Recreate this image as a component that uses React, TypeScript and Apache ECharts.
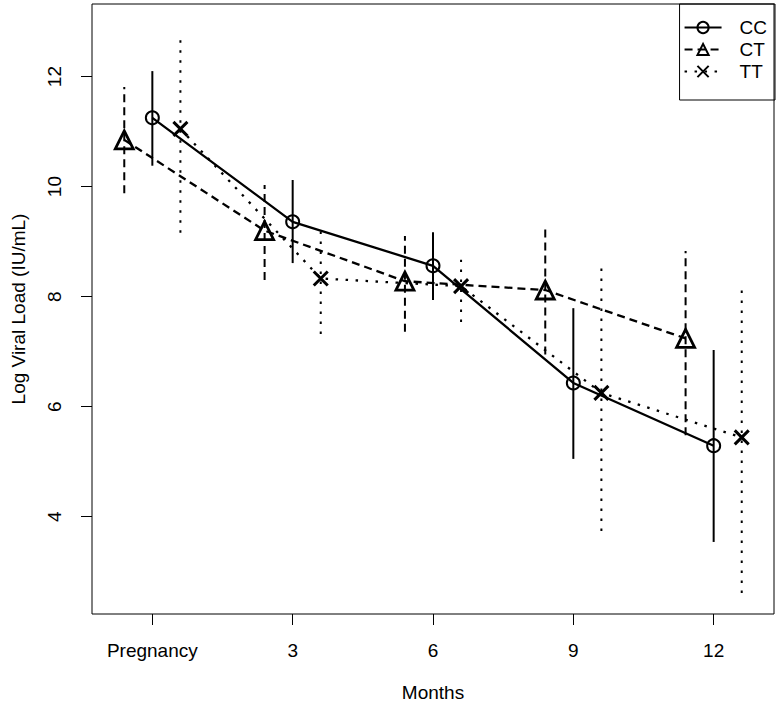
import React, { useEffect, useRef } from "react";
import * as echarts from "echarts";

const timeLabels = ["Pregnancy", "3", "6", "9", "12"];
const groupNames = ["CC", "CT", "TT"];
const ccMean = [11.25, 9.36, 8.56, 6.43, 5.29];
const ccLow = [10.38, 8.61, 7.94, 5.05, 3.54];
const ccHigh = [12.1, 10.12, 9.17, 7.79, 7.03];
const ctMean = [10.85, 9.2, 8.28, 8.12, 7.24];
const ctLow = [9.88, 8.3, 7.36, 6.95, 5.48];
const ctHigh = [11.81, 10.03, 9.1, 9.23, 8.83];
const ttMean = [11.05, 8.33, 8.19, 6.25, 5.44];
const ttLow = [9.16, 7.32, 7.54, 3.74, 2.61];
const ttHigh = [12.78, 9.32, 8.67, 8.61, 8.21];
const yTicks = [4, 6, 8, 10, 12];

const FONT = "Liberation Sans, Arial, sans-serif";
const FS = 19;

export default function App() {
  const ref = useRef<HTMLDivElement>(null);
  useEffect(() => {
    if (!ref.current) return;
    const chart = echarts.init(ref.current, null, { renderer: "svg" });
    const dodge = 0.2;
    const groups = [
      { name: "CC", mean: ccMean, low: ccLow, high: ccHigh, off: 0, dash: null as any, symbol: "circle", size: 13, bw: 2 },
      { name: "CT", mean: ctMean, low: ctLow, high: ctHigh, off: -dodge, dash: [8, 5], symbol: "triangle", size: 18, bw: 2.8 },
      { name: "TT", mean: ttMean, low: ttLow, high: ttHigh, off: dodge, dash: [2.5, 7.5], symbol: "path://M0,0L10,10M10,0L0,10", size: 14, bw: 3 },
    ];
    const series: any[] = [];
    groups.forEach((g) => {
      series.push({
        type: "custom",
        name: g.name + " range",
        data: g.mean.map((_, i) => [i + g.off, g.low[i], g.high[i]]),
        renderItem: (params: any, api: any) => {
          const x = api.value(0);
          const p1 = api.coord([x, api.value(1)]);
          const p2 = api.coord([x, api.value(2)]);
          return {
            type: "line",
            shape: { x1: p1[0], y1: p1[1], x2: p2[0], y2: p2[1] },
            style: { stroke: "#000", lineWidth: 2, lineDash: g.dash || undefined, fill: null },
          };
        },
        z: 1,
      });
      series.push({
        type: "line",
        name: g.name,
        data: g.mean.map((v, i) => [i + g.off, v]),
        symbol: g.symbol,
        symbolSize: g.size,
        lineStyle: { color: "#000", width: 2.3, type: g.dash || "solid" },
        itemStyle: { color: "transparent", borderColor: "#000", borderWidth: g.bw },
        z: 2,
      });
    });
    chart.setOption({
      animation: false,
      backgroundColor: "#fff",
      textStyle: { fontFamily: FONT },
      grid: { left: 92, right: 4, top: 4, bottom: 93, show: true, borderColor: "#000", borderWidth: 1, backgroundColor: "transparent" },
      legend: {
        data: groupNames,
        top: 4,
        right: 3,
        orient: "vertical",
        itemWidth: 37,
        itemHeight: 14,
        itemGap: 3,
        padding: [14, 8, 19, 4],
        borderColor: "#000",
        borderWidth: 1,
        textStyle: { fontSize: FS, lineHeight: 18, color: "#000", fontFamily: FONT, padding: [0, 0, 0, 13] },
      },
      xAxis: {
        type: "value",
        min: -0.43,
        max: 4.43,
        name: "Months",
        nameLocation: "middle",
        nameGap: 69,
        nameTextStyle: { fontSize: FS, color: "#000", fontFamily: FONT },
        axisLine: { show: false, onZero: false },
        splitLine: { show: false },
        axisTick: { show: true, length: 11, lineStyle: { color: "#000" }, customValues: timeLabels.map((_, i) => i) },
        axisLabel: {
          fontSize: FS,
          color: "#000",
          margin: 27,
          customValues: timeLabels.map((_, i) => i),
          formatter: (v: number) => timeLabels[Math.round(v)] ?? "",
        },
      },
      yAxis: {
        type: "value",
        min: 2.23,
        max: 13.32,
        name: "Log Viral Load (IU/mL)",
        nameLocation: "middle",
        nameGap: 64,
        nameTextStyle: { fontSize: FS, color: "#000", fontFamily: FONT },
        axisLine: { show: false, onZero: false },
        splitLine: { show: false },
        axisTick: { show: true, length: 11, lineStyle: { color: "#000" }, customValues: yTicks },
        axisLabel: { fontSize: FS, color: "#000", rotate: 90, margin: 28, customValues: yTicks },
      },
      series,
    });
    return () => chart.dispose();
  }, []);
  return <div ref={ref} style={{ position: "fixed", left: 0, top: 0, width: 778, height: 707 }} />;
}
